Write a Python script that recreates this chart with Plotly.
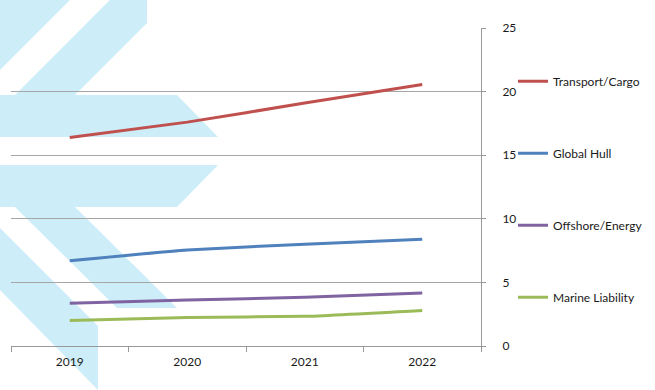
import plotly.graph_objects as go

years = ["2019", "2020", "2021", "2022"]
transport_cargo = [16.4, 17.6, 19.1, 20.55]
global_hull = [6.7, 7.55, 8.0, 8.4]
offshore_energy = [3.36, 3.62, 3.83, 4.17]
marine_liability = [2.0, 2.25, 2.33, 2.8]

series_names = ["Transport/Cargo", "Global Hull", "Offshore/Energy", "Marine Liability"]
series_values = [transport_cargo, global_hull, offshore_energy, marine_liability]
series_colors = ["#c0504d", "#4f81bd", "#8064a2", "#9bbb59"]

W, H = 655, 390
ML, MT, MR, MB = 11, 28, 174, 44
PW, PH = W - ML - MR, H - MT - MB

# decorative watermark (pixel outlines converted to paper coordinates)
watermark_polys = [
    [(0, 0), (70, 0), (0, 70)],
    [(110, 0), (147, 0), (147, 23), (75, 95), (15, 95)],
    [(0, 95), (177, 95), (218, 137), (0, 137)],
    [(0, 165), (218, 165), (177, 207), (0, 207)],
    [(15, 207), (75, 207), (177, 308), (117, 308)],
    [(0, 228), (98, 326), (98, 390), (0, 290)],
]


def to_paper(px, py):
    return (px - ML) / PW, (H - MB - py) / PH


shapes = []
for poly in watermark_polys:
    pts = [to_paper(x, y) for x, y in poly]
    path = "M " + " L ".join(f"{x:.4f},{y:.4f}" for x, y in pts) + " Z"
    shapes.append(dict(type="path", xref="paper", yref="paper", path=path,
                       fillcolor="rgb(205,237,248)", line=dict(width=0), layer="below"))

fig = go.Figure()
for i, (name, vals, col) in enumerate(zip(series_names, series_values, series_colors)):
    fig.add_trace(go.Scatter(x=years, y=vals, name=name, mode="lines",
                             line=dict(color=col, width=3, shape="spline", smoothing=0.4),
                             legendgroup=f"g{i}"))

fig.update_layout(
    width=W, height=H,
    margin=dict(l=ML, r=MR, t=MT, b=MB, autoexpand=False),
    paper_bgcolor="white", plot_bgcolor="white",
    font=dict(family="Lato, Open Sans, sans-serif", size=12, color="#1a1a1a"),
    shapes=shapes,
    showlegend=True,
    legend=dict(xref="container", yref="container", x=513 / W, xanchor="left",
                y=0.8287, yanchor="top", maxheight=H,
                tracegroupgap=53, font=dict(size=12), bgcolor="rgba(0,0,0,0)",
                itemwidth=30),
    xaxis=dict(type="category", range=[-0.5, 3.5], showgrid=False,
               showline=True, linecolor="#999999", linewidth=1,
               ticks="outside", ticklen=5, tickcolor="#999999", tickson="boundaries",
               ticklabelstandoff=5, tickfont=dict(size=12)),
    yaxis=dict(side="right", range=[0, 25], dtick=5, showgrid=True,
               gridcolor="#a6a6a6", gridwidth=1, zeroline=False,
               showline=True, linecolor="#999999", linewidth=1,
               ticks="outside", ticklen=4, tickcolor="#999999",
               ticklabelstandoff=14, tickfont=dict(size=12)),
)

fig.write_html("out.html", config={"displayModeBar": False},
               post_script="document.body.style.margin='0px';")
